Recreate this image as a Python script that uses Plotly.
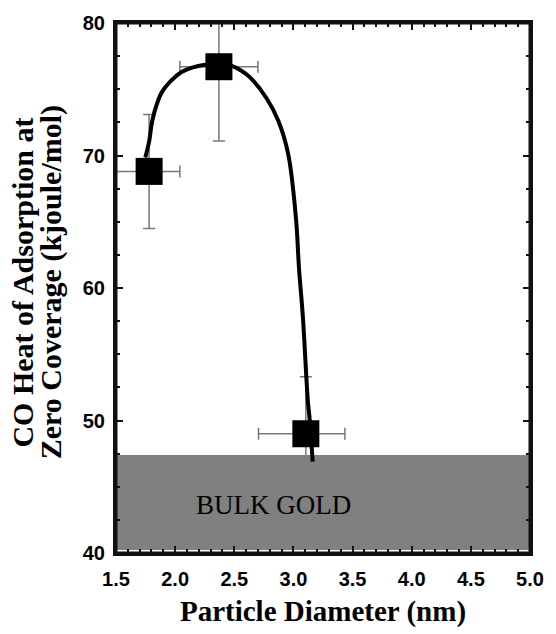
import plotly.graph_objects as go

# Data points (particle diameter nm, heat of adsorption kJ/mol)
diam = [1.78, 2.37, 3.105]
heat = [68.8, 76.7, 49.0]
xerr_plus = [0.26, 0.33, 0.33]
xerr_minus = [0.32, 0.33, 0.40]
yerr = [4.3, 5.6, 4.3]

# Smooth guide curve
curve_x = [1.748, 1.781, 1.806, 1.85, 1.889, 1.96, 2.054, 2.15, 2.253, 2.368, 2.468,
           2.56, 2.633, 2.774, 2.873, 2.956, 3.022, 3.047, 3.080, 3.121, 3.138, 3.163]
curve_y = [69.85, 71.1, 72.6, 74.0, 74.8, 75.6, 76.3, 76.65, 76.85, 76.95, 76.8,
           76.4, 75.9, 74.3, 72.6, 70.1, 65.2, 61.5, 57.8, 51.6, 50.0, 46.9]

# Bulk gold band
bulk_x = [1.5, 5.0]
bulk_top = 47.4
bulk_bottom = 40.22
bulk_label = "BULK GOLD"

x_range = [1.5, 5.0]
y_range = [40, 80]
ytitle_lines = ["CO Heat of Adsorption at", "Zero Coverage (kjoule/mol)"]
xtitle = "Particle Diameter (nm)"

axis_color = "#111111"

fig = go.Figure()

fig.add_trace(go.Scatter(
    x=diam, y=heat, mode="markers",
    marker=dict(size=1, color="rgba(0,0,0,0)"),
    error_x=dict(type="data", symmetric=False, array=xerr_plus, arrayminus=xerr_minus,
                 color="#777777", thickness=1.5, width=6),
    error_y=dict(type="data", array=yerr, color="#777777", thickness=1.5, width=6),
    showlegend=False, hoverinfo="skip"))

fig.add_trace(go.Scatter(
    x=[bulk_x[0], bulk_x[1], bulk_x[1], bulk_x[0], bulk_x[0]],
    y=[bulk_bottom, bulk_bottom, bulk_top, bulk_top, bulk_bottom],
    mode="lines", fill="toself", fillcolor="#808080",
    line=dict(width=0, color="#808080"), showlegend=False, hoverinfo="skip"))

fig.add_trace(go.Scatter(
    x=curve_x, y=curve_y, mode="lines", line=dict(color="black", width=4, shape="spline"),
    showlegend=False, hoverinfo="skip"))

fig.add_trace(go.Scatter(
    x=diam, y=heat, mode="markers",
    marker=dict(symbol="square", size=27, color="black"),
    showlegend=False))

fig.add_annotation(x=2.83, y=43.6, text=bulk_label,
                   showarrow=False, font=dict(family="Liberation Serif", size=27, color="black"))

for line, xfrac in zip(ytitle_lines, [-0.225, -0.158]):
    fig.add_annotation(x=xfrac, y=0.51, xref="paper", yref="paper",
                       xanchor="center", yanchor="middle", textangle=-90,
                       text="<b>" + line + "</b>", showarrow=False,
                       font=dict(family="Liberation Serif", size=30, color="black"))

fig.add_shape(type="rect", xref="x domain", yref="y domain", x0=0, x1=1, y0=0, y1=1,
              line=dict(color=axis_color, width=3), fillcolor="rgba(0,0,0,0)", layer="above")

tickfont = dict(family="Liberation Sans", size=20, color="black", weight="bold")
common = dict(ticks="inside", ticklen=7, tickwidth=2, tickcolor=axis_color,
              showline=True, linecolor=axis_color, linewidth=3, mirror="allticks",
              showgrid=False, zeroline=False, tickfont=tickfont)
fig.update_xaxes(range=x_range, dtick=0.5, tickformat=".1f", ticklabelstandoff=6,
                 minor=dict(dtick=0.1, ticks="inside", ticklen=4, tickwidth=2,
                            tickcolor=axis_color, showgrid=False),
                 title=dict(text="<b>" + xtitle + "</b>", standoff=12,
                            font=dict(family="Liberation Serif", size=29, color="black")),
                 **common)
fig.update_yaxes(range=y_range, dtick=10, ticklabelstandoff=4,
                 minor=dict(dtick=2.5, ticks="inside", ticklen=4, tickwidth=2,
                            tickcolor=axis_color, showgrid=False),
                 **common)

fig.update_layout(width=556, height=634, margin=dict(l=116, r=17, t=20, b=74),
                  plot_bgcolor="white", paper_bgcolor="white",
                  font=dict(family="Liberation Sans", color="black"))

fig.write_html("out.html")
